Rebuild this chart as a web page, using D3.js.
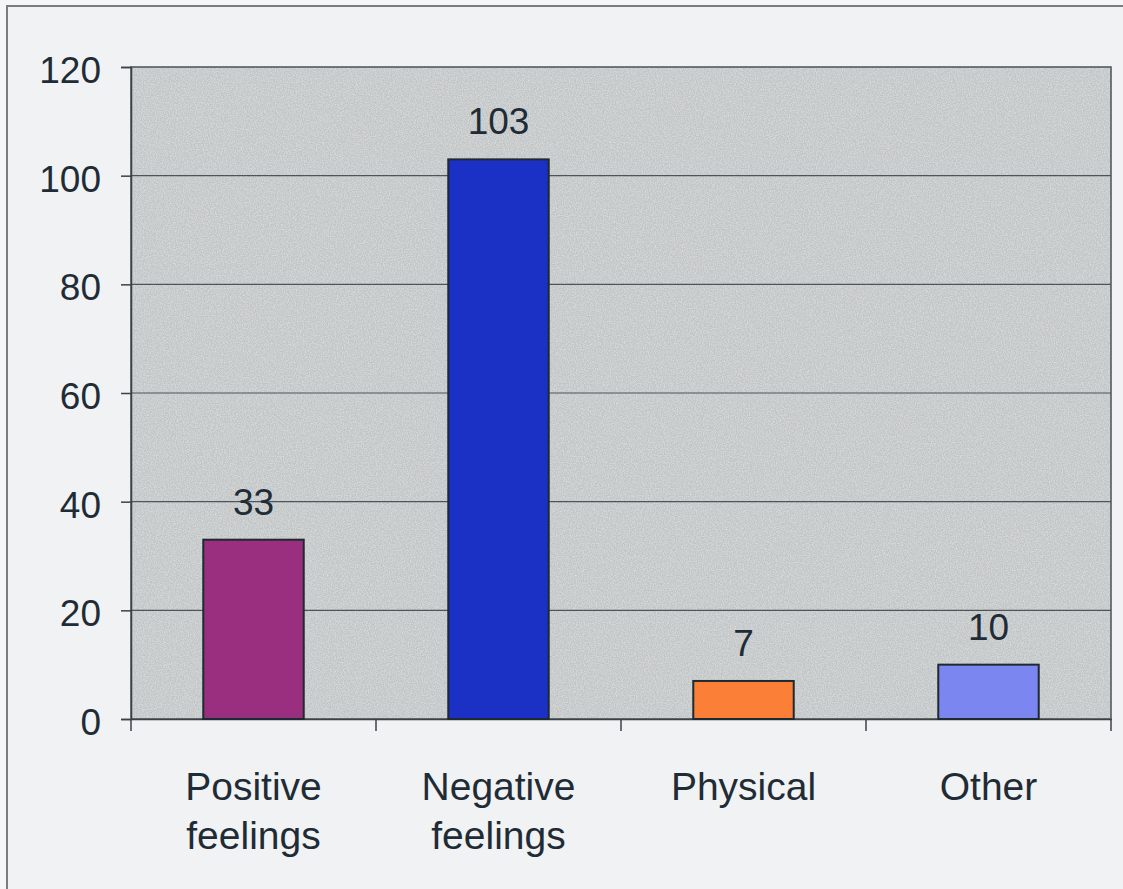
<!DOCTYPE html>
<html>
<head>
<meta charset="utf-8">
<script src="https://cdn.jsdelivr.net/npm/d3@7/dist/d3.min.js"></script>
<style>
  html, body { margin: 0; padding: 0; background: #f6f6f7; }
  svg { display: block; }
  text { font-family: "Liberation Sans", Arial, sans-serif; fill: #1f2c36; }
</style>
</head>
<body>
<svg id="chart" width="1123" height="889"></svg>
<script>
// Response counts per category
const categories = ["Positive feelings", "Negative feelings", "Physical", "Other"];
const counts = [33, 103, 7, 10];
const barColors = ["#9a2f80", "#1b30c4", "#fb7f37", "#7c86f0"];
const yTicks = [0, 20, 40, 60, 80, 100, 120];

const W = 1123, H = 889;
const plot = { left: 131, right: 1111, top: 67, bottom: 719 };

const svg = d3.select("#chart");

// Page background and outer frame
svg.append("rect").attr("width", W).attr("height", H).attr("fill", "#f6f6f7");
svg.append("rect")
  .attr("x", 7).attr("y", 6).attr("width", W + 20).attr("height", H + 20)
  .attr("fill", "#f1f2f4").attr("stroke", "#7a7d80").attr("stroke-width", 2);

// Grain texture for the plot area: dark and light specks
const defs = svg.append("defs");
const f = defs.append("filter").attr("id", "grain")
  .attr("x", 0).attr("y", 0).attr("width", "100%").attr("height", "100%");
f.append("feTurbulence").attr("type", "fractalNoise").attr("baseFrequency", 0.85)
  .attr("numOctaves", 2).attr("seed", 4).attr("result", "noise");
f.append("feColorMatrix").attr("in", "noise").attr("type", "matrix")
  .attr("values", "0 0 0 0 0.45  0 0 0 0 0.47  0 0 0 0 0.48  1.8 0 0 0 -0.65")
  .attr("result", "dark");
f.append("feColorMatrix").attr("in", "noise").attr("type", "matrix")
  .attr("values", "0 0 0 0 0.95  0 0 0 0 0.96  0 0 0 0 0.97  -1.8 0 0 0 1.05")
  .attr("result", "light");
f.append("feMerge").call(m => {
  m.append("feMergeNode").attr("in", "dark");
  m.append("feMergeNode").attr("in", "light");
});

const x = d3.scaleBand()
  .domain(categories)
  .range([plot.left, plot.right])
  .paddingInner(0.59)
  .paddingOuter(0.295);

const y = d3.scaleLinear().domain([0, 120]).range([plot.bottom, plot.top]);

// Plot area fill
svg.append("rect")
  .attr("x", plot.left).attr("y", plot.top)
  .attr("width", plot.right - plot.left).attr("height", plot.bottom - plot.top)
  .attr("fill", "#c8cbcc");
svg.append("rect")
  .attr("x", plot.left).attr("y", plot.top)
  .attr("width", plot.right - plot.left).attr("height", plot.bottom - plot.top)
  .attr("fill", "#c8cbcc").attr("filter", "url(#grain)").attr("opacity", 0.45);

// Horizontal gridlines
svg.append("g").selectAll("line")
  .data(yTicks.filter(d => d > 0 && d < 120))
  .join("line")
  .attr("x1", plot.left).attr("x2", plot.right)
  .attr("y1", d => y(d)).attr("y2", d => y(d))
  .attr("stroke", "#4e5559").attr("stroke-width", 1.2);

// Plot border
svg.append("rect")
  .attr("x", plot.left).attr("y", plot.top)
  .attr("width", plot.right - plot.left).attr("height", plot.bottom - plot.top)
  .attr("fill", "none").attr("stroke", "#4a5256").attr("stroke-width", 1.5);

// Y axis
const yAxis = svg.append("g")
  .attr("transform", `translate(${plot.left},0)`)
  .call(d3.axisLeft(y).tickValues(yTicks).tickSize(10).tickPadding(20));
yAxis.select(".domain").attr("stroke", "#3a4246").attr("stroke-width", 1.5);
yAxis.selectAll(".tick line").attr("stroke", "#3a4246").attr("stroke-width", 1.5);
yAxis.selectAll(".tick text")
  .attr("font-size", 37).attr("fill", "#1f2c36")
  .attr("font-family", "Liberation Sans, Arial, sans-serif")
  .attr("dy", "0.42em");

// X axis baseline and category separators
const bottomAxis = svg.append("g")
  .attr("transform", `translate(0,${plot.bottom})`)
  .call(d3.axisBottom(x).tickSize(0).tickFormat(""));
bottomAxis.select(".domain").attr("stroke", "#3a4246").attr("stroke-width", 1.5);
const step = x.step();
svg.append("g").selectAll("line")
  .data(d3.range(categories.length + 1))
  .join("line")
  .attr("x1", i => plot.left + i * step).attr("x2", i => plot.left + i * step)
  .attr("y1", plot.bottom).attr("y2", plot.bottom + 12)
  .attr("stroke", "#3a4246").attr("stroke-width", 1.5);

// Bars
svg.append("g").selectAll("rect")
  .data(categories)
  .join("rect")
  .attr("x", d => x(d))
  .attr("y", (d, i) => y(counts[i]))
  .attr("width", x.bandwidth())
  .attr("height", (d, i) => y(0) - y(counts[i]))
  .attr("fill", (d, i) => barColors[i])
  .attr("stroke", "#1f2a30").attr("stroke-width", 2);

// Value labels
svg.append("g").selectAll("text")
  .data(categories)
  .join("text")
  .attr("x", d => x(d) + x.bandwidth() / 2)
  .attr("y", (d, i) => y(counts[i]) - 25)
  .attr("text-anchor", "middle")
  .attr("font-size", 37)
  .text((d, i) => counts[i]);

// Category labels (two lines where needed)
const labels = svg.append("g").selectAll("text")
  .data(categories)
  .join("text")
  .attr("x", d => x(d) + x.bandwidth() / 2)
  .attr("y", 800)
  .attr("text-anchor", "middle")
  .attr("font-size", 39);
labels.each(function(d) {
  const words = d.split(" ");
  const t = d3.select(this);
  words.forEach((w, i) => {
    t.append("tspan")
      .attr("x", x(d) + x.bandwidth() / 2)
      .attr("dy", i === 0 ? 0 : 49)
      .text(w);
  });
});
</script>
</body>
</html>
